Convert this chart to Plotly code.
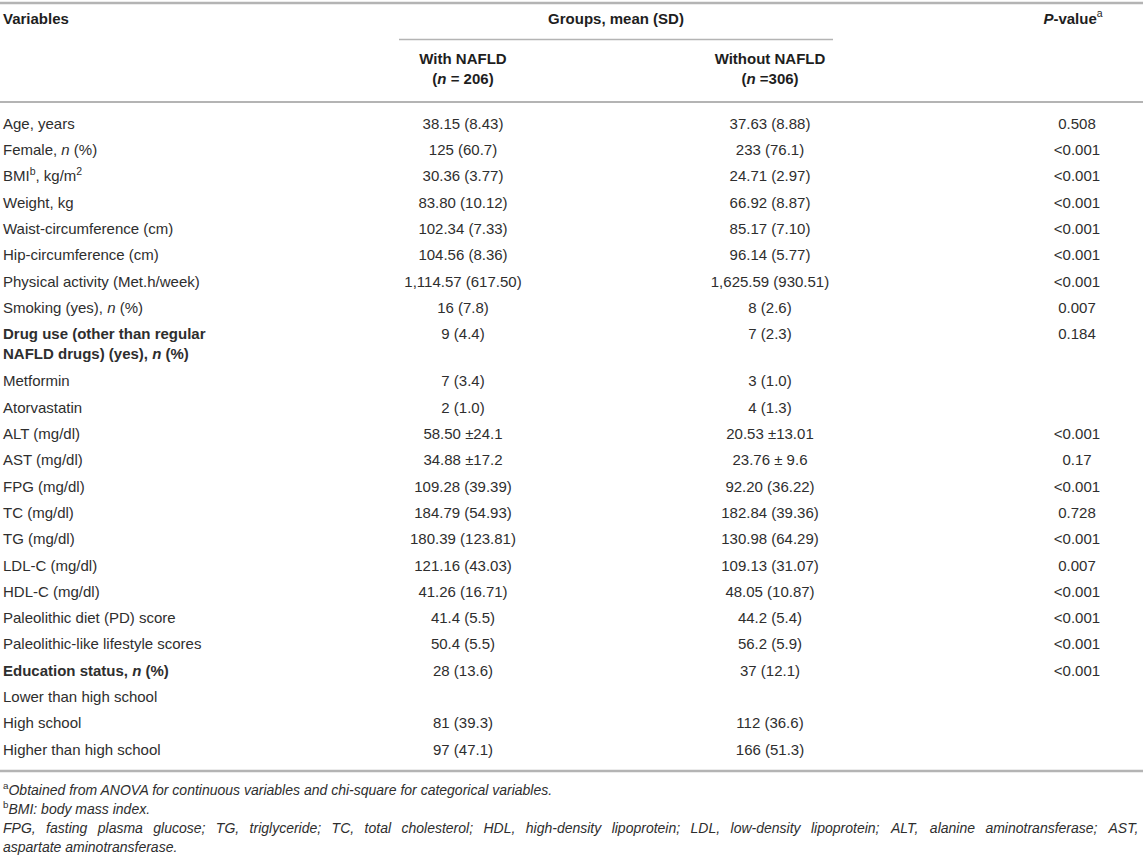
import plotly.graph_objects as go

# table body, one entry per row
variables = [
    "Age, years", "Female, <i>n</i> (%)", "BMI<sup>b</sup>, kg/m<sup>2</sup>", "Weight, kg",
    "Waist-circumference (cm)", "Hip-circumference (cm)", "Physical activity (Met.h/week)",
    "Smoking (yes), <i>n</i> (%)",
    "<b>Drug use (other than regular<br>NAFLD drugs) (yes), <i>n</i> (%)</b>",
    "Metformin", "Atorvastatin", "ALT (mg/dl)", "AST (mg/dl)", "FPG (mg/dl)", "TC (mg/dl)",
    "TG (mg/dl)", "LDL-C (mg/dl)", "HDL-C (mg/dl)", "Paleolithic diet (PD) score",
    "Paleolithic-like lifestyle scores", "<b>Education status, <i>n</i> (%)</b>",
    "Lower than high school", "High school", "Higher than high school",
]
with_nafld = [
    "38.15 (8.43)", "125 (60.7)", "30.36 (3.77)", "83.80 (10.12)", "102.34 (7.33)",
    "104.56 (8.36)", "1,114.57 (617.50)", "16 (7.8)", "9 (4.4)", "7 (3.4)", "2 (1.0)",
    "58.50 ±24.1", "34.88 ±17.2", "109.28 (39.39)", "184.79 (54.93)", "180.39 (123.81)",
    "121.16 (43.03)", "41.26 (16.71)", "41.4 (5.5)", "50.4 (5.5)", "28 (13.6)", "",
    "81 (39.3)", "97 (47.1)",
]
without_nafld = [
    "37.63 (8.88)", "233 (76.1)", "24.71 (2.97)", "66.92 (8.87)", "85.17 (7.10)",
    "96.14 (5.77)", "1,625.59 (930.51)", "8 (2.6)", "7 (2.3)", "3 (1.0)", "4 (1.3)",
    "20.53 ±13.01", "23.76 ± 9.6", "92.20 (36.22)", "182.84 (39.36)", "130.98 (64.29)",
    "109.13 (31.07)", "48.05 (10.87)", "44.2 (5.4)", "56.2 (5.9)", "37 (12.1)", "",
    "112 (36.6)", "166 (51.3)",
]
p_values = [
    "0.508", "<0.001", "<0.001", "<0.001", "<0.001", "<0.001", "<0.001", "0.007", "0.184",
    "", "", "<0.001", "0.17", "<0.001", "0.728", "<0.001", "0.007", "<0.001", "<0.001",
    "<0.001", "<0.001", "", "", "",
]

header_top = ["<b>Variables</b>", "<b>Groups, mean (SD)</b>", "<b><i>P</i>-value</b><sup>a</sup>"]
header_sub = ["<b>With NAFLD<br>(<i>n</i> = 206)</b>", "<b>Without NAFLD<br>(<i>n</i> =306)</b>"]

note_a = "<sup>a</sup><i>Obtained from ANOVA for continuous variables and chi-square for categorical variables.</i>"
note_b = "<sup>b</sup><i>BMI: body mass index.</i>"
note_abbr = ("FPG, fasting plasma glucose; TG, triglyceride; TC, total cholesterol; HDL, "
             "high-density lipoprotein; LDL, low-density lipoprotein; ALT, alanine "
             "aminotransferase; AST,")
note_abbr_end = "aspartate aminotransferase."

# layout (pixel space)
W, H = 1143, 860
X_LEFT, X_WITH, X_WITHOUT, X_P = 3, 463, 770, 1077
ROW0, ROW_STEP, EXTRA = 125, 26.3, 21
FONT = "Liberation Sans, Arial, Helvetica, sans-serif"
TXT = "#2e2e2e"
RULE = "#b4b4b4"

row_y = []
extra = 0
for i, lab in enumerate(variables):
    row_y.append(ROW0 + i * ROW_STEP + extra)
    if "<br>" in lab:
        extra += EXTRA
label_y = [y + (9.75 if "<br>" in lab else 0) for y, lab in zip(row_y, variables)]

# helvetica-ish advance widths (per 1000 em) to justify the last note line
WID = {" ": 278, ",": 278, ";": 278, ".": 278, "-": 333}
WID.update(dict(zip("abcdefghijklmnopqrstuvwxyz",
                    [556, 556, 500, 556, 556, 278, 556, 556, 222, 222, 500, 222, 833,
                     556, 556, 556, 556, 333, 500, 278, 556, 500, 722, 500, 500, 500])))
WID.update({"A": 667, "C": 722, "D": 722, "F": 611, "G": 778, "H": 722, "L": 556,
            "P": 667, "S": 667, "T": 611})


def text_w(s, size):
    return sum(WID.get(c, 556) for c in s) * size / 1000.0


def filled(col):
    pts = [(y, t) for y, t in zip(row_y, col) if t]
    return [p[0] for p in pts], [p[1] for p in pts]


fig = go.Figure()

# body columns
fig.add_trace(go.Scatter(x=[X_LEFT] * len(variables), y=label_y, text=variables,
                         mode="text", textposition="middle right",
                         textfont=dict(family=FONT, size=15, color=TXT)))
for xc, col in [(X_WITH, with_nafld), (X_WITHOUT, without_nafld), (X_P, p_values)]:
    ys, ts = filled(col)
    fig.add_trace(go.Scatter(x=[xc] * len(ts), y=ys, text=ts, mode="text",
                             textposition="middle center",
                             textfont=dict(family=FONT, size=15, color=TXT)))

# header
fig.add_trace(go.Scatter(x=[X_LEFT], y=[20], text=[header_top[0]], mode="text",
                         textposition="middle right",
                         textfont=dict(family=FONT, size=15, color="#1e1e1e")))
fig.add_trace(go.Scatter(x=[616, X_P - 4], y=[20, 20], text=header_top[1:], mode="text",
                         textposition="middle center",
                         textfont=dict(family=FONT, size=15, color="#1e1e1e")))
fig.add_trace(go.Scatter(x=[X_WITH, X_WITHOUT], y=[70, 70], text=header_sub, mode="text",
                         textposition="middle center",
                         textfont=dict(family=FONT, size=15, color="#1e1e1e")))

# notes
NOTE_SIZE = 14
fig.add_trace(go.Scatter(x=[X_LEFT, X_LEFT, X_LEFT], y=[791, 810, 848],
                         text=[note_a, note_b, "<i>" + note_abbr_end + "</i>"],
                         mode="text", textposition="middle right",
                         textfont=dict(family=FONT, size=NOTE_SIZE, color=TXT)))
words = note_abbr.split(" ")
widths = [text_w(w, NOTE_SIZE) for w in words]
gap = (1139 - X_LEFT - sum(widths)) / (len(words) - 1)
centers, cur = [], X_LEFT
for w in widths:
    centers.append(cur + w / 2)
    cur += w + gap
fig.add_trace(go.Scatter(x=centers, y=[829] * len(words), text=["<i>%s</i>" % w for w in words],
                         mode="text", textposition="middle center",
                         textfont=dict(family=FONT, size=NOTE_SIZE, color=TXT)))

# rules
for x0, x1, y, lw in [(0, W, 3, 2.5), (399, 833, 39.5, 1.5), (0, W, 102, 2), (0, W, 771, 2.5)]:
    fig.add_shape(type="line", x0=x0, x1=x1, y0=y, y1=y, xref="x", yref="y",
                  line=dict(color=RULE, width=lw))

fig.update_traces(cliponaxis=False, hoverinfo="skip")
fig.update_layout(width=W, height=H, margin=dict(l=0, r=0, t=0, b=0), showlegend=False,
                  paper_bgcolor="white", plot_bgcolor="white",
                  xaxis=dict(range=[0, W], visible=False, fixedrange=True),
                  yaxis=dict(range=[H, 0], visible=False, fixedrange=True))
# page body has an 8px default margin; drop it so the figure sits at the window corner
fig.write_html("out.html", config={"displayModeBar": False},
               post_script="document.body.style.margin='0';")
